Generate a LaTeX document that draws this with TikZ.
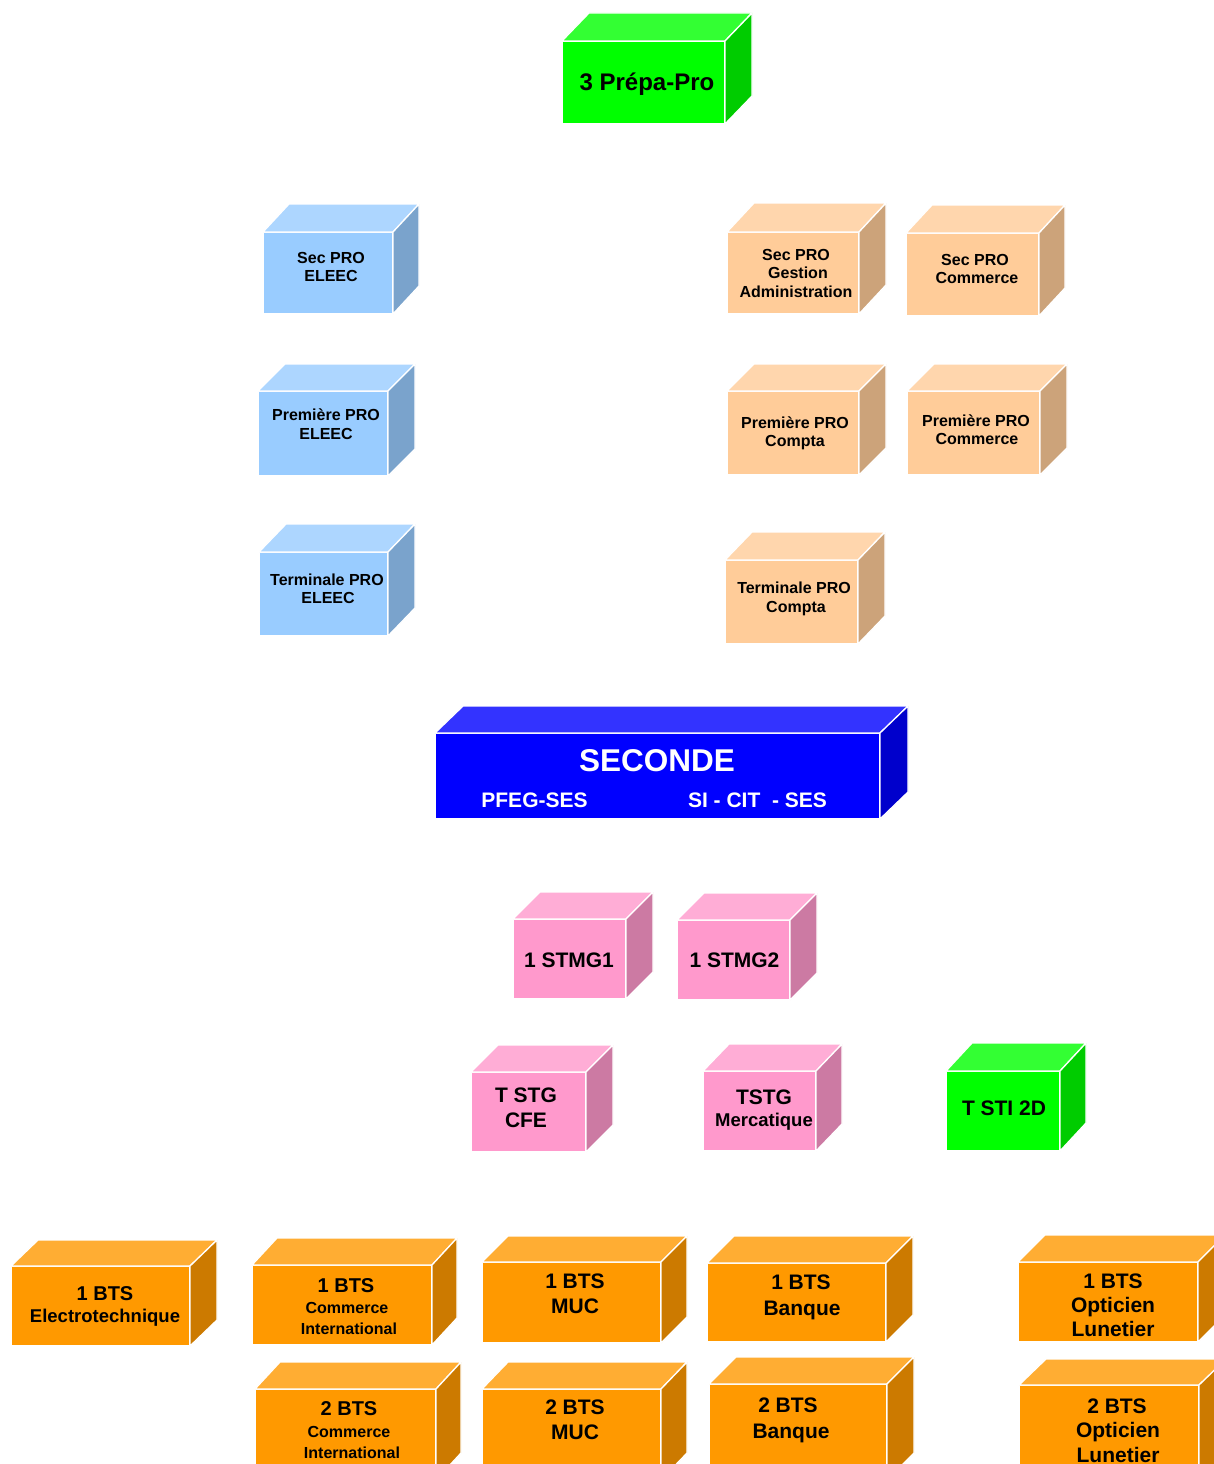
\documentclass[tikz,border=0pt]{standalone}
\usepackage{fontspec}
\setmainfont{Liberation Sans}
\definecolor{gF}{HTML}{00FF00}\definecolor{gT}{HTML}{33FF33}\definecolor{gS}{HTML}{00CC00}
\definecolor{lF}{HTML}{99CCFF}\definecolor{lT}{HTML}{ADD6FF}\definecolor{lS}{HTML}{7AA3CC}
\definecolor{pF}{HTML}{FFCC99}\definecolor{pT}{HTML}{FFD6AD}\definecolor{pS}{HTML}{CCA37A}
\definecolor{bF}{HTML}{0000FF}\definecolor{bT}{HTML}{3333FF}\definecolor{bS}{HTML}{0000CC}
\definecolor{kF}{HTML}{FF99CC}\definecolor{kT}{HTML}{FFADD6}\definecolor{kS}{HTML}{CC7AA3}
\definecolor{oF}{HTML}{FF9900}\definecolor{oT}{HTML}{FFAD33}\definecolor{oS}{HTML}{CC7A00}
\tikzset{
  face/.style={draw=white, line width=1.3pt, line join=miter},
  frontface/.style={face, rectangle, inner sep=0pt, outer sep=0pt},
  txt/.style={anchor=base, inner sep=0pt, font=\bfseries},
}
% name, x1, y1, x2, y2, dx, dy, colour prefix
\newcommand\cubebox[8]{%
  \node[frontface, fill=#8F, minimum width={#4pt-#2pt}, minimum height={#5pt-#3pt}]
     (#1) at ({(#2+#4)/2},{(#3+#5)/2}) {};
  \filldraw[face, fill=#8T] (#1.north west) -- ++(#6,-#7) -- ([shift={(#6,-#7)}]#1.north east) -- (#1.north east) -- cycle;
  \filldraw[face, fill=#8S] (#1.north east) -- ++(#6,-#7) -- ([shift={(#6,-#7)}]#1.south east) -- (#1.south east) -- cycle;
}
\newcommand\fs[1]{\fontsize{#1}{#1}\selectfont\bfseries}
\begin{document}
\begin{tikzpicture}[x=1pt,y=-1pt]
\useasboundingbox (0,0) rectangle (1214,1464);
\clip (0,0) rectangle (1214,1464);
\fill[white] (0,0) rectangle (1214,1464);

% boxes
\cubebox{prepa}{562}{41}{725}{124}{27}{28}{g}
\cubebox{eleecA}{263}{232}{393}{314}{26}{28}{l}
\cubebox{eleecB}{258}{391}{388}{476}{27}{27}{l}
\cubebox{eleecC}{259}{552}{388}{636}{27}{28}{l}
\cubebox{secga}{727}{232}{859}{314}{27}{29}{p}
\cubebox{seccom}{906}{233}{1039}{316}{26}{28}{p}
\cubebox{precompta}{727}{391}{859}{475}{27}{27}{p}
\cubebox{precom}{907}{391}{1040}{475}{27}{27}{p}
\cubebox{tercompta}{725}{560}{858}{644}{27}{28}{p}
\cubebox{seconde}{435}{733}{880}{819}{28}{27}{b}
\cubebox{stmgA}{513}{919}{626}{999}{27}{27}{k}
\cubebox{stmgB}{677}{920}{790}{1000}{27}{27}{k}
\cubebox{tstgcfe}{471}{1072}{586}{1152}{27}{27}{k}
\cubebox{tstgmerc}{703}{1071}{816}{1151}{26}{27}{k}
\cubebox{tsti}{946}{1071}{1060}{1151}{26}{28}{g}
\cubebox{btselec}{11}{1266}{190}{1346}{27}{26}{o}
\cubebox{btsciA}{252}{1265}{432}{1345}{25}{27}{o}
\cubebox{btsciB}{255}{1389}{436}{1480}{25}{27}{o}
\cubebox{btsmucA}{482}{1262}{661}{1343}{26}{26}{o}
\cubebox{btsmucB}{482}{1389}{661}{1480}{26}{27}{o}
\cubebox{btsbqA}{707}{1263}{886}{1342}{27}{27}{o}
\cubebox{btsbqB}{709}{1384}{887}{1480}{27}{27}{o}
\cubebox{btsoptA}{1018}{1262}{1198}{1342}{27}{27}{o}
\cubebox{btsoptB}{1019}{1385}{1199}{1480}{27}{26}{o}

% texts
\node[txt, font=\fs{24}] (t-prepa) at (647,90) {3 Prépa-Pro};

\node[txt, font=\fs{16}] (t-eA1) at (331,263) {Sec PRO};
\node[txt, font=\fs{16}] (t-eA2) at (331,281) {ELEEC};
\node[txt, font=\fs{16}] (t-eB1) at (326,420) {Première PRO};
\node[txt, font=\fs{16}] (t-eB2) at (326,439) {ELEEC};
\node[txt, font=\fs{16}] (t-eC1) at (327,585) {Terminale PRO};
\node[txt, font=\fs{16}] (t-eC2) at (328,603) {ELEEC};

\node[txt, font=\fs{16}] (t-ga1) at (796,260) {Sec PRO};
\node[txt, font=\fs{16}] (t-ga2) at (798,278) {Gestion};
\node[txt, font=\fs{16}] (t-ga3) at (796,297) {Administration};
\node[txt, font=\fs{16}] (t-sc1) at (975,265) {Sec PRO};
\node[txt, font=\fs{16}] (t-sc2) at (977,283) {Commerce};
\node[txt, font=\fs{16}] (t-pc1) at (795,428) {Première PRO};
\node[txt, font=\fs{16}] (t-pc2) at (795,446) {Compta};
\node[txt, font=\fs{16}] (t-pco1) at (976,426) {Première PRO};
\node[txt, font=\fs{16}] (t-pco2) at (977,444) {Commerce};
\node[txt, font=\fs{16}] (t-tc1) at (794,593) {Terminale PRO};
\node[txt, font=\fs{16}] (t-tc2) at (796,612) {Compta};

\node[txt, font=\fs{31.5}, text=white] (t-sec) at (657,771) {SECONDE};
\node[txt, font=\fs{21}, text=white] (t-sec1) at (534.5,807) {PFEG-SES};
\node[txt, font=\fs{21}, text=white] (t-sec2) at (757.5,807) {SI - CIT\ \ - SES};

\node[txt, font=\fs{21}] (t-stA) at (569,967) {1 STMG1};
\node[txt, font=\fs{21}] (t-stB) at (734.5,967) {1 STMG2};
\node[txt, font=\fs{21}] (t-cfe1) at (526,1102) {T STG};
\node[txt, font=\fs{21}] (t-cfe2) at (526,1127) {CFE};
\node[txt, font=\fs{21}] (t-mer1) at (764,1104) {TSTG};
\node[txt, font=\fs{18.5}] (t-mer2) at (764,1126) {Mercatique};
\node[txt, font=\fs{21}] (t-sti) at (1004,1115) {T STI 2D};

\node[txt, font=\fs{20}] (t-el1) at (105,1300) {1 BTS};
\node[txt, font=\fs{18.5}] (t-el2) at (105,1322) {Electrotechnique};
\node[txt, font=\fs{20}] (t-ciA1) at (346,1292) {1 BTS};
\node[txt, font=\fs{16}] (t-ciA2) at (347,1313) {Commerce};
\node[txt, font=\fs{16}] (t-ciA3) at (349,1334) {International};
\node[txt, font=\fs{20}] (t-ciB1) at (349,1415) {2 BTS};
\node[txt, font=\fs{16}] (t-ciB2) at (349,1437) {Commerce};
\node[txt, font=\fs{16}] (t-ciB3) at (352,1458) {International};
\node[txt, font=\fs{21}] (t-muA1) at (575,1288) {1 BTS};
\node[txt, font=\fs{21}] (t-muA2) at (575,1313) {MUC};
\node[txt, font=\fs{21}] (t-muB1) at (575,1414) {2 BTS};
\node[txt, font=\fs{21}] (t-muB2) at (575,1439) {MUC};
\node[txt, font=\fs{21}] (t-bqA1) at (801,1289) {1 BTS};
\node[txt, font=\fs{21}] (t-bqA2) at (802,1315) {Banque};
\node[txt, font=\fs{21}] (t-bqB1) at (788,1412) {2 BTS};
\node[txt, font=\fs{21}] (t-bqB2) at (791,1438) {Banque};
\node[txt, font=\fs{21}] (t-opA1) at (1113,1288) {1 BTS};
\node[txt, font=\fs{21}] (t-opA2) at (1113,1312) {Opticien};
\node[txt, font=\fs{21}] (t-opA3) at (1113,1336) {Lunetier};
\node[txt, font=\fs{21}] (t-opB1) at (1117,1413) {2 BTS};
\node[txt, font=\fs{21}] (t-opB2) at (1118,1437) {Opticien};
\node[txt, font=\fs{21}] (t-opB3) at (1118,1462) {Lunetier};
\end{tikzpicture}
\end{document}
